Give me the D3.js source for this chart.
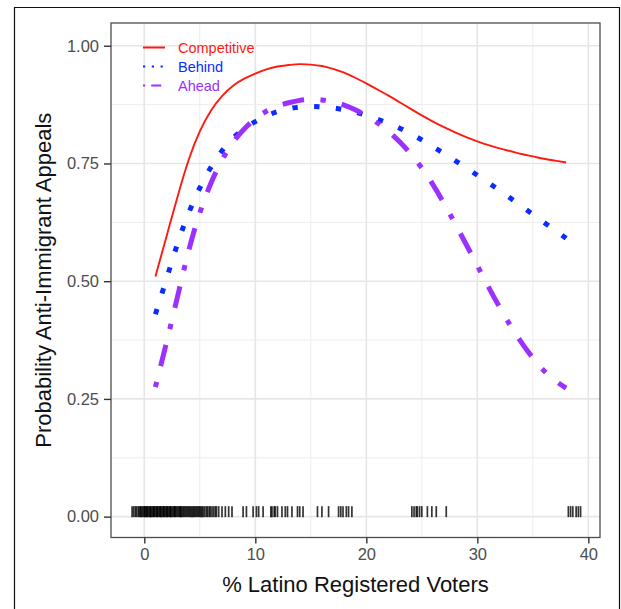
<!DOCTYPE html>
<html>
<head>
<meta charset="utf-8">
<script src="https://cdn.jsdelivr.net/npm/d3@7"></script>
<style>
  body { margin: 0; background: #fff; }
  svg { display: block; font-family: 'Liberation Sans', Arial, sans-serif; }
</style>
</head>
<body>
<svg id="chart" width="621" height="609"></svg>
<script>
// % Latino registered voters where the fitted curves are read
const latino = [1, 2, 3, 4, 5, 6, 7, 8, 9, 10, 11, 12, 13, 14, 15, 16, 17, 18, 19, 20,
  21, 22, 23, 24, 25, 26, 27, 28, 29, 30, 31, 32, 33, 34, 35, 36, 37, 38]

const competitive = [0.51, 0.595, 0.68, 0.758, 0.818, 0.862, 0.893, 0.915, 0.93, 0.941,
  0.95, 0.956, 0.959, 0.961, 0.96, 0.957, 0.951, 0.943, 0.932, 0.92,
  0.907, 0.894, 0.88, 0.866, 0.852, 0.839, 0.827, 0.816, 0.806, 0.797,
  0.789, 0.782, 0.776, 0.77, 0.765, 0.76, 0.756, 0.752]

const behind = [0.43, 0.505, 0.58, 0.645, 0.698, 0.742, 0.777, 0.804, 0.824, 0.839,
  0.851, 0.86, 0.866, 0.87, 0.871, 0.87, 0.868, 0.864, 0.859, 0.852,
  0.844, 0.835, 0.825, 0.813, 0.8, 0.786, 0.771, 0.756, 0.741, 0.725,
  0.709, 0.693, 0.676, 0.659, 0.642, 0.625, 0.608, 0.591]

const ahead = [0.275, 0.37, 0.468, 0.565, 0.645, 0.708, 0.757, 0.795, 0.823, 0.845,
  0.861, 0.872, 0.879, 0.884, 0.886, 0.885, 0.881, 0.874, 0.864, 0.851,
  0.836, 0.818, 0.796, 0.77, 0.74, 0.705, 0.665, 0.622, 0.578, 0.533,
  0.488, 0.445, 0.405, 0.369, 0.337, 0.31, 0.289, 0.273]

// observed districts, drawn as a rug at y = 0
const rugValues = [-1.1, -0.95, -0.8, -0.7,
  -0.55, -0.45, -0.35, -0.3, -0.2, -0.1, 0, 0.05, 0.1, 0.2, 0.25, 0.3, 0.4, 0.5, 0.55, 0.6,
  0.7, 0.8, 0.85, 0.9, 1, 1.1, 1.15, 1.2, 1.3, 1.4, 1.45, 1.5, 1.6, 1.7, 1.75, 1.8, 1.9,
  2, 2.05, 2.1, 2.2, 2.3, 2.35, 2.4, 2.5, 2.6, 2.7, 2.75, 2.8, 2.9, 3, 3.1, 3.2, 3.25, 3.3,
  3.4, 3.5, 3.6, 3.7, 3.8, 3.9, 4, 4.1, 4.2, 4.3, 4.4, 4.5, 4.6, 4.7, 4.8, 4.9, 5, 5.1,
  5.2, 5.3, 5.45, 5.6, 5.7, 5.85, 5.95, 6.1, 6.25, 6.4, 6.5, 6.7,
  7.0, 7.3, 7.6, 7.9, 8.9, 9.2, 9.8, 10.1, 10.3, 10.7, 11.4, 11.5, 11.7, 11.8, 12.0,
  12.4, 12.7, 12.9, 13.3, 13.8, 14.0, 14.3, 15.6, 16.0, 16.6, 17.5, 17.7, 17.9, 18.2,
  18.4, 18.7, 24.1, 24.3, 24.5, 24.6, 24.8, 25.0, 25.5, 25.9, 26.3, 27.2,
  38.2, 38.4, 38.6, 38.9, 39.1, 39.3]

const xTicks = [0, 10, 20, 30, 40]
const xMinor = [5, 15, 25, 35]
const yTicks = [0, 0.25, 0.5, 0.75, 1]
const yMinor = [0.125, 0.375, 0.625, 0.875]

const seriesNames = ['Competitive', 'Behind', 'Ahead']
const seriesValues = [competitive, behind, ahead]

const styles = {
  Competitive: { color: '#ff1a0f', width: 1.9, dash: null, keyDash: null, keyWidth: 2 },
  Behind: { color: '#0a2cff', width: 5, dash: '5.4,16.4', keyDash: '2.2,6.6', keyWidth: 2.2 },
  Ahead: { color: '#9b30ff', width: 5, dash: '5.4,16.4,21.8,16.4', keyDash: '2.2,6,10,6', keyWidth: 2.2 },
}

const panel = { left: 111, right: 600, top: 23, bottom: 537.5 }

const svg = d3.select('#chart')

// outer frame of the figure
svg.append('path')
  .attr('d', 'M14.5,609 V7.5 H619.5 V609')
  .attr('fill', 'none')
  .attr('stroke', '#111')
  .attr('stroke-width', 1.2)

const x = d3.scaleLinear().domain([-3, 41.05]).range([panel.left, panel.right])
const y = d3.scaleLinear().domain([-0.0443, 1.0483]).range([panel.bottom, panel.top])

const grid = svg.append('g')
grid.selectAll('line.xminor').data(xMinor).enter().append('line')
  .attr('x1', (d) => x(d)).attr('x2', (d) => x(d))
  .attr('y1', panel.top).attr('y2', panel.bottom)
  .attr('stroke', '#ebebeb').attr('stroke-width', 0.9)
grid.selectAll('line.yminor').data(yMinor).enter().append('line')
  .attr('y1', (d) => y(d)).attr('y2', (d) => y(d))
  .attr('x1', panel.left).attr('x2', panel.right)
  .attr('stroke', '#ebebeb').attr('stroke-width', 0.9)
grid.selectAll('line.xmajor').data(xTicks).enter().append('line')
  .attr('x1', (d) => x(d)).attr('x2', (d) => x(d))
  .attr('y1', panel.top).attr('y2', panel.bottom)
  .attr('stroke', '#e6e6e6').attr('stroke-width', 1.6)
grid.selectAll('line.ymajor').data(yTicks).enter().append('line')
  .attr('y1', (d) => y(d)).attr('y2', (d) => y(d))
  .attr('x1', panel.left).attr('x2', panel.right)
  .attr('stroke', '#e6e6e6').attr('stroke-width', 1.6)

// rug of observations
svg.append('g').selectAll('line').data(rugValues).enter().append('line')
  .attr('x1', (d) => x(d)).attr('x2', (d) => x(d))
  .attr('y1', y(0) - 10.5).attr('y2', y(0) + 0.5)
  .attr('stroke', '#000')
  .attr('stroke-opacity', 0.8)
  .attr('stroke-width', 1.7)

const line = d3.line()
  .x((d) => x(d[0]))
  .y((d) => y(d[1]))
  .curve(d3.curveNatural)

seriesNames.forEach((name, i) => {
  const s = styles[name]
  const pts = latino.map((v, j) => [v, seriesValues[i][j]])
  svg.append('path')
    .datum(pts)
    .attr('d', line)
    .attr('fill', 'none')
    .attr('stroke', s.color)
    .attr('stroke-width', s.width)
    .attr('stroke-dasharray', s.dash)
    .attr('stroke-linecap', 'butt')
})

// panel border
svg.append('rect')
  .attr('x', panel.left).attr('y', panel.top)
  .attr('width', panel.right - panel.left)
  .attr('height', panel.bottom - panel.top)
  .attr('fill', 'none')
  .attr('stroke', '#4d4d4d')
  .attr('stroke-width', 1.3)

// axes
const xAxis = svg.append('g')
  .attr('transform', `translate(0,${panel.bottom})`)
  .call(d3.axisBottom(x).tickValues(xTicks).tickSize(6).tickPadding(5).tickFormat(d3.format('d')))
const yAxis = svg.append('g')
  .attr('transform', `translate(${panel.left},0)`)
  .call(d3.axisLeft(y).tickValues(yTicks).tickSize(7).tickPadding(5).tickFormat(d3.format('.2f')))

;[xAxis, yAxis].forEach((ax) => {
  ax.select('.domain').remove()
  ax.selectAll('.tick line').attr('stroke', '#333').attr('stroke-width', 1.4)
  ax.selectAll('.tick text')
    .attr('fill', '#4d4d4d')
    .style('font-size', '16.5px')
    .style('font-family', "'Liberation Sans', Arial, sans-serif")
})

svg.append('text')
  .attr('x', (panel.left + panel.right) / 2)
  .attr('y', 592)
  .attr('text-anchor', 'middle')
  .style('font-size', '22px')
  .attr('fill', '#111')
  .text('% Latino Registered Voters')

svg.append('text')
  .attr('transform', `translate(51,${(panel.top + panel.bottom) / 2}) rotate(-90)`)
  .attr('text-anchor', 'middle')
  .style('font-size', '22px')
  .attr('fill', '#111')
  .text('Probability Anti-Immigrant Appeals')

// legend
const legend = svg.append('g').attr('transform', 'translate(143,47.5)')
seriesNames.forEach((name, i) => {
  const s = styles[name]
  const row = legend.append('g').attr('transform', `translate(0,${i * 19})`)
  row.append('line')
    .attr('x1', 0).attr('x2', 22)
    .attr('stroke', s.color)
    .attr('stroke-width', s.keyWidth)
    .attr('stroke-dasharray', s.keyDash)
  row.append('text')
    .attr('x', 35)
    .attr('dy', '0.35em')
    .attr('fill', s.color)
    .style('font-size', '14.5px')
    .text(name)
})
</script>
</body>
</html>
